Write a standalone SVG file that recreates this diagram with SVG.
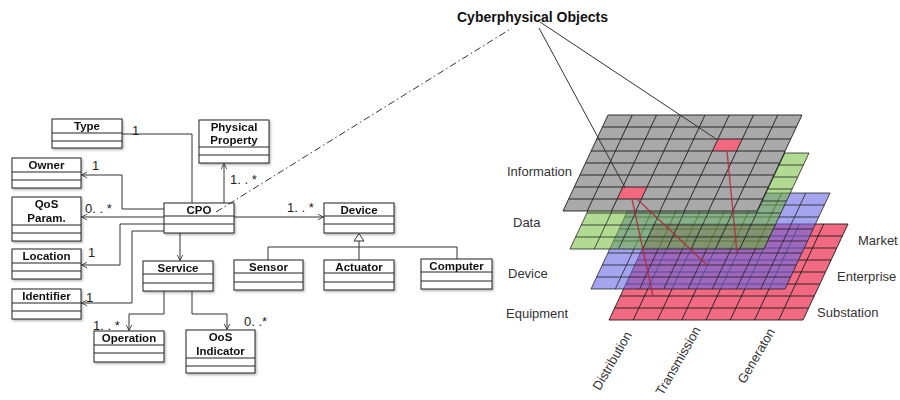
<svg xmlns="http://www.w3.org/2000/svg" xmlns:xlink="http://www.w3.org/1999/xlink" width="900" height="400" viewBox="0 0 900 400">
<style>
.box rect{fill:#fff;stroke:#222;stroke-width:1}
.box path{fill:none;stroke:#222;stroke-width:1}
.box{filter:url(#sh)}
.bt{font-family:"Liberation Sans",Arial,sans-serif;font-weight:bold;font-size:11.5px;fill:#111;text-anchor:middle}
.m{font-family:"Liberation Sans",Arial,sans-serif;font-size:13px;fill:#222}
.lbl{font-family:"Liberation Sans",Arial,sans-serif;font-size:13px;fill:#333}
.con path{fill:none;stroke:#333;stroke-width:1}
.arr{marker-end:url(#oa)}
.grid{fill:none;stroke:#1c1c1c;stroke-width:0.9}
</style>
<defs>
<filter id="sh" x="-10%" y="-10%" width="130%" height="140%">
<feDropShadow dx="1.2" dy="1.5" stdDeviation="0.8" flood-color="#000" flood-opacity="0.3"/>
</filter>
<marker id="oa" viewBox="0 0 10 10" refX="9" refY="5" markerWidth="7" markerHeight="7" markerUnits="userSpaceOnUse" orient="auto">
<path d="M1,1 L9,5 L1,9" fill="none" stroke="#333" stroke-width="1.2"/>
</marker>
<polygon id="pl" points="45,0 239,0 194,96 0,96"/>
<path id="grid" d="M45,0H239M39.375,12H233.375M33.75,24H227.75M28.125,36H222.125M22.5,48H216.5M16.875,60H210.875M11.25,72H205.25M5.625,84H199.625M0,96H194M45,0L0,96M69.25,0L24.25,96M93.5,0L48.5,96M117.75,0L72.75,96M142,0L97,96M166.25,0L121.25,96M190.5,0L145.5,96M214.75,0L169.75,96M239,0L194,96"/>
</defs>
<rect width="900" height="400" fill="#fff"/>

<!-- UML classes -->
<g id="type" class="box"><rect x="52" y="119" width="70" height="29"/><path d="M52,133H122M52,141H122"/><text class="bt" x="87" y="130">Type</text></g>
<g id="physical-property" class="box"><rect x="199" y="120" width="70" height="43"/><path d="M199,147H269M199,155H269"/><text class="bt" x="234" y="131">Physical</text><text class="bt" x="234" y="144">Property</text></g>
<g id="owner" class="box"><rect x="12" y="158" width="69" height="30"/><path d="M12,172H81M12,180H81"/><text class="bt" x="46.5" y="169">Owner</text></g>
<g id="qos-param" class="box"><rect x="12" y="197" width="69" height="44"/><path d="M12,225H81M12,233H81"/><text class="bt" x="46.5" y="207.5">QoS</text><text class="bt" x="46.5" y="222">Param.</text></g>
<g id="location" class="box"><rect x="12" y="249" width="69" height="30"/><path d="M12,263H81M12,271H81"/><text class="bt" x="46.5" y="260">Location</text></g>
<g id="identifier" class="box"><rect x="12" y="289" width="69" height="30"/><path d="M12,303H81M12,311H81"/><text class="bt" x="46.5" y="300">Identifier</text></g>
<g id="cpo" class="box"><rect x="164" y="203" width="70" height="30"/><path d="M164,216H234M164,224H234"/><text class="bt" x="199" y="213.5">CPO</text></g>
<g id="service" class="box"><rect x="143" y="261" width="70" height="30"/><path d="M143,274H213M143,283H213"/><text class="bt" x="178" y="271.5">Service</text></g>
<g id="operation" class="box"><rect x="94" y="331" width="70" height="31"/><path d="M94,345H164M94,353H164"/><text class="bt" x="129" y="342">Operation</text></g>
<g id="oos-indicator" class="box"><rect x="186" y="330" width="69" height="43"/><path d="M186,358H255M186,366H255"/><text class="bt" x="220.5" y="341">OoS</text><text class="bt" x="220.5" y="355">Indicator</text></g>
<g id="device" class="box"><rect x="324" y="203" width="70" height="30"/><path d="M324,216H394M324,224H394"/><text class="bt" x="359" y="213.5">Device</text></g>
<g id="sensor" class="box"><rect x="234" y="260" width="69" height="30"/><path d="M234,273H303M234,282H303"/><text class="bt" x="268.5" y="270.5">Sensor</text></g>
<g id="actuator" class="box"><rect x="324" y="260" width="70" height="30"/><path d="M324,273H394M324,282H394"/><text class="bt" x="359" y="270.5">Actuator</text></g>
<g id="computer" class="box"><rect x="421" y="259" width="71" height="30"/><path d="M421,272H492M421,281H492"/><text class="bt" x="456.5" y="270">Computer</text></g>

<!-- UML connectors -->
<g id="connectors" class="con">
<path d="M122,134H192V203"/>
<path class="arr" d="M224,203V163.5"/>
<path class="arr" d="M164,209H122V175H81.5"/>
<path class="arr" d="M164,217H81.5"/>
<path class="arr" d="M164,224H120V265H81.5"/>
<path class="arr" d="M164,231H132V303H81.5"/>
<path class="arr" d="M180,233V260.5"/>
<path class="arr" d="M164,291V314H129V330.5"/>
<path class="arr" d="M192,291V314H227V329.5"/>
<path class="arr" d="M234,217H323.5"/>
<path d="M359,241V260M268,260V247H457V259"/>
<polygon points="359,233.5 354,241 364,241" fill="#fff" stroke="#333" stroke-width="1"/>
<path d="M216,212L512,28" stroke="#555" stroke-dasharray="7,3,1.5,3"/>
</g>

<!-- multiplicities -->
<g id="multiplicities">
<text class="m" x="132" y="135">1</text>
<text class="m" x="92" y="170">1</text>
<text class="m" x="85" y="213">0. . *</text>
<text class="m" x="230" y="184">1. . *</text>
<text class="m" x="287" y="212">1. . *</text>
<text class="m" x="88" y="257">1</text>
<text class="m" x="86" y="302">1</text>
<text class="m" x="93" y="330">1. . *</text>
<text class="m" x="244" y="326">0. .*</text>
</g>

<!-- layered grids -->
<g id="layer-equipment" transform="translate(609,224)"><use href="#pl" fill="#f26a81"/><use href="#grid" class="grid"/></g>
<g id="layer-device" transform="translate(591,193)"><use href="#pl" fill="rgb(104,104,229)" fill-opacity="0.6"/><use href="#grid" class="grid" stroke-opacity="0.85"/></g>
<g id="layer-data" transform="translate(570,153)"><use href="#pl" fill="rgb(110,185,50)" fill-opacity="0.53"/><use href="#grid" class="grid" stroke-opacity="0.85"/></g>
<g id="layer-information">
<use href="#pl" transform="translate(563,115)" fill="#a9a9a9"/>
<polygon points="718,139 742.25,139 736.625,151 712.375,151" fill="#f4687f"/>
<polygon points="622.75,187 647,187 641.375,199 617.125,199" fill="#f4687f"/>
<use href="#grid" class="grid" transform="translate(563,115)"/>
</g>
<g id="links" fill="none" stroke="#b2283c" stroke-width="1.4" stroke-opacity="0.85">
<path d="M632,199L653,296"/>
<path d="M637,199L707,265"/>
<path d="M727,151L737,253"/>
</g>
<g id="title-lines" fill="none" stroke="#333" stroke-width="1">
<path d="M539,28L625,187.5M540,22L717,139.5"/>
</g>

<!-- labels -->
<text x="457" y="22" font-family="'Liberation Sans',Arial,sans-serif" font-weight="bold" font-size="14" fill="#111">Cyberphysical Objects</text>
<text class="lbl" x="507" y="176">Information</text>
<text class="lbl" x="513" y="227">Data</text>
<text class="lbl" x="508" y="277.5">Device</text>
<text class="lbl" x="506" y="318">Equipment</text>
<text class="lbl" x="858" y="245">Market</text>
<text class="lbl" x="837" y="281">Enterprise</text>
<text class="lbl" x="817" y="317">Substation</text>
<text class="lbl" text-anchor="middle" transform="translate(616,363) rotate(-60)">Distribution</text>
<text class="lbl" text-anchor="middle" transform="translate(682,363) rotate(-60)">Transmission</text>
<text class="lbl" text-anchor="middle" transform="translate(760,358) rotate(-60)">Generaton</text>
</svg>
